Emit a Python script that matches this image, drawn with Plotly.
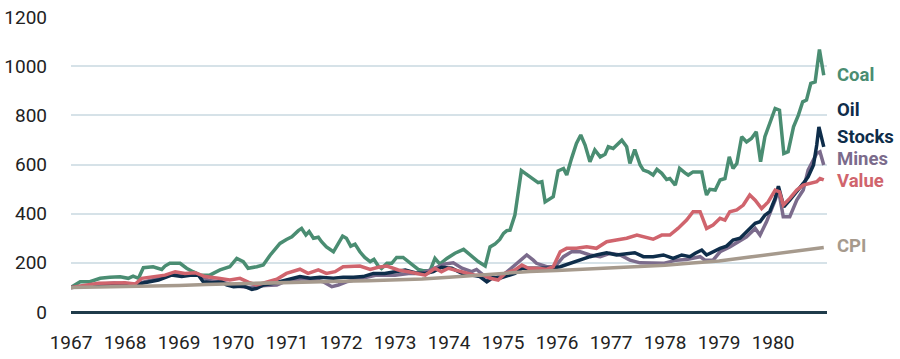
import plotly.graph_objects as go

# ---------------- data (index, Jan 1967 = 100) ----------------
coal_x = [1967.00, 1967.17, 1967.35, 1967.54, 1967.72, 1967.91, 1968.06, 1968.15, 1968.25, 1968.34,
          1968.52, 1968.68, 1968.74, 1968.83, 1969.02, 1969.14, 1969.26, 1969.39, 1969.57, 1969.76,
          1969.94, 1970.07, 1970.19, 1970.28, 1970.44, 1970.56, 1970.69, 1970.78, 1970.87, 1970.99,
          1971.09, 1971.21, 1971.27, 1971.35, 1971.41, 1971.49, 1971.58, 1971.64, 1971.73, 1971.86,
          1971.95, 1972.03, 1972.10, 1972.18, 1972.26, 1972.35, 1972.44, 1972.54, 1972.61, 1972.69,
          1972.75, 1972.85, 1972.94, 1973.03, 1973.15, 1973.25, 1973.34, 1973.43, 1973.52, 1973.65,
          1973.74, 1973.83, 1973.96, 1974.11, 1974.27, 1974.42, 1974.54, 1974.67, 1974.76, 1974.85,
          1974.94, 1975.01, 1975.07, 1975.13, 1975.22, 1975.34, 1975.50, 1975.65, 1975.72, 1975.78,
          1975.93, 1976.02, 1976.12, 1976.18, 1976.27, 1976.36, 1976.44, 1976.52, 1976.61, 1976.70,
          1976.80, 1976.89, 1976.95, 1977.04, 1977.20, 1977.29, 1977.35, 1977.44, 1977.54, 1977.60,
          1977.69, 1977.78, 1977.85, 1977.94, 1978.03, 1978.09, 1978.19, 1978.27, 1978.37, 1978.43,
          1978.52, 1978.61, 1978.68, 1978.74, 1978.77, 1978.83, 1978.93, 1979.02, 1979.11, 1979.19,
          1979.26, 1979.33, 1979.42, 1979.51, 1979.60, 1979.69, 1979.77, 1979.85, 1979.91, 1979.99,
          1980.04, 1980.12, 1980.16, 1980.20, 1980.28, 1980.38, 1980.47, 1980.55, 1980.62, 1980.70,
          1980.78, 1980.86, 1980.94]
coal_y = [100, 123, 123, 137, 141, 143, 137, 146, 137, 180,
          184, 173, 187, 198, 198, 178, 164, 150, 150, 171,
          184, 218, 205, 178, 184, 191, 232, 255, 279, 295,
          306, 331, 340, 313, 327, 300, 304, 286, 265, 245,
          279, 309, 300, 268, 276, 245, 222, 205, 214, 187,
          177, 198, 198, 222, 222, 205, 187, 173, 168, 168,
          218, 195, 218, 239, 255, 225, 205, 187, 265, 276,
          295, 320, 331, 333, 394, 575, 550, 526, 530, 448,
          469, 574, 584, 557, 625, 686, 720, 679, 611, 659,
          631, 642, 672, 665, 699, 672, 604, 661, 598, 577,
          570, 557, 580, 564, 539, 543, 516, 584, 566, 557,
          570, 570, 570, 503, 476, 499, 496, 537, 543, 631,
          584, 604, 713, 692, 706, 733, 611, 713, 751, 797,
          828, 821, 747, 645, 652, 753, 801, 855, 862, 930,
          936, 1068, 963]

oil_x = [1967.00, 1967.20, 1967.40, 1967.60, 1967.80, 1968.00, 1968.20, 1968.31, 1968.62, 1968.86,
         1969.05, 1969.24, 1969.36, 1969.45, 1969.61, 1969.79, 1969.88, 1970.01, 1970.19, 1970.35,
         1970.44, 1970.56, 1970.75, 1970.99, 1971.24, 1971.43, 1971.61, 1971.86, 1972.04, 1972.23,
         1972.41, 1972.60, 1972.81, 1973.00, 1973.19, 1973.37, 1973.56, 1973.71, 1973.86, 1974.05,
         1974.24, 1974.42, 1974.57, 1974.70, 1974.82, 1974.94, 1975.10, 1975.22, 1975.35, 1975.47,
         1975.69, 1975.87, 1976.06, 1976.24, 1976.43, 1976.61, 1976.73, 1976.92, 1977.10, 1977.29,
         1977.44, 1977.60, 1977.78, 1977.97, 1978.15, 1978.31, 1978.46, 1978.56, 1978.68, 1978.77,
         1978.89, 1979.02, 1979.14, 1979.26, 1979.39, 1979.48, 1979.57, 1979.67, 1979.76, 1979.85,
         1979.94, 1980.04, 1980.10, 1980.16, 1980.20, 1980.31, 1980.44, 1980.56, 1980.65, 1980.75,
         1980.81, 1980.85, 1980.94]
oil_y = [100, 104, 108, 112, 114, 112, 110, 117, 130, 150,
         144, 150, 150, 123, 119, 123, 110, 103, 106, 92,
         96, 110, 117, 130, 144, 137, 141, 137, 141, 141,
         144, 157, 157, 164, 171, 160, 157, 164, 182, 178,
         157, 150, 144, 123, 141, 137, 150, 157, 178, 178,
         178, 178, 184, 198, 214, 225, 232, 241, 232, 236,
         241, 225, 225, 232, 218, 232, 225, 239, 252, 232,
         245, 259, 268, 293, 300, 320, 340, 361, 367, 394,
         408, 462, 512, 455, 428, 455, 489, 523, 550, 598,
         679, 753, 672]

mines_x = [1967.00, 1967.20, 1967.40, 1967.60, 1967.80, 1968.00, 1968.20, 1968.35, 1968.60, 1968.85,
           1969.05, 1969.25, 1969.40, 1969.55, 1969.80, 1970.05, 1970.30, 1970.60, 1970.81, 1971.00,
           1971.30, 1971.50, 1971.67, 1971.83, 1971.95, 1972.10, 1972.41, 1972.66, 1973.00, 1973.25,
           1973.49, 1973.74, 1973.93, 1974.08, 1974.24, 1974.42, 1974.51, 1974.67, 1974.85, 1975.04,
           1975.22, 1975.44, 1975.56, 1975.62, 1975.81, 1975.96, 1976.12, 1976.27, 1976.43, 1976.61,
           1976.80, 1976.98, 1977.17, 1977.35, 1977.54, 1977.72, 1977.97, 1978.21, 1978.40, 1978.65,
           1978.74, 1978.89, 1979.02, 1979.20, 1979.51, 1979.67, 1979.76, 1979.88, 1980.04, 1980.10,
           1980.19, 1980.31, 1980.44, 1980.56, 1980.65, 1980.73, 1980.81, 1980.87, 1980.94]
mines_y = [100, 106, 110, 114, 118, 114, 112, 122, 135, 152,
           150, 155, 148, 128, 122, 106, 100, 108, 110, 128,
           135, 132, 123, 103, 110, 123, 137, 150, 150, 157,
           157, 178, 195, 200, 178, 164, 173, 144, 137, 157,
           191, 232, 211, 198, 184, 184, 225, 245, 245, 232,
           225, 239, 232, 211, 200, 198, 198, 211, 214, 225,
           211, 211, 245, 265, 306, 340, 313, 367, 455, 499,
           387, 387, 455, 496, 577, 611, 645, 652, 598]

value_x = [1967.00, 1967.51, 1968.00, 1968.19, 1968.31, 1968.56, 1968.74, 1968.93, 1969.11, 1969.30,
           1969.48, 1969.73, 1969.94, 1970.13, 1970.31, 1970.44, 1970.62, 1970.81, 1970.99, 1971.24,
           1971.39, 1971.58, 1971.73, 1971.89, 1972.04, 1972.35, 1972.54, 1972.69, 1972.85, 1973.06,
           1973.25, 1973.43, 1973.56, 1973.74, 1973.86, 1973.99, 1974.11, 1974.30, 1974.48, 1974.64,
           1974.76, 1974.91, 1975.04, 1975.22, 1975.35, 1975.47, 1975.62, 1975.81, 1975.93, 1976.06,
           1976.18, 1976.36, 1976.55, 1976.73, 1976.92, 1977.10, 1977.29, 1977.48, 1977.63, 1977.78,
           1977.94, 1978.09, 1978.24, 1978.40, 1978.52, 1978.65, 1978.77, 1978.89, 1979.02, 1979.11,
           1979.20, 1979.33, 1979.45, 1979.57, 1979.67, 1979.79, 1979.91, 1980.04, 1980.12, 1980.19,
           1980.31, 1980.44, 1980.56, 1980.69, 1980.81, 1980.87, 1980.94]
value_y = [100, 117, 119, 114, 137, 144, 150, 164, 157, 160,
           144, 137, 130, 137, 119, 110, 123, 133, 157, 174,
           157, 171, 157, 164, 184, 187, 173, 182, 187, 171,
           164, 157, 150, 178, 164, 178, 171, 157, 150, 150,
           137, 130, 157, 171, 191, 178, 178, 174, 184, 245,
           259, 259, 265, 259, 286, 293, 300, 313, 306, 296,
           313, 313, 340, 374, 408, 408, 340, 354, 381, 374,
           408, 415, 435, 476, 455, 421, 448, 496, 489, 435,
           462, 496, 516, 523, 530, 543, 537]

cpi_x = [1967.0, 1967.5, 1968.0, 1968.5, 1969.0, 1969.5, 1970.0, 1970.5, 1971.0, 1971.5,
         1972.0, 1972.5, 1973.0, 1973.5, 1974.0, 1974.5, 1975.0, 1975.5, 1976.0, 1976.5,
         1977.0, 1977.5, 1978.0, 1978.5, 1979.0, 1979.5, 1980.0, 1980.5, 1980.94]
cpi_y = [100.0, 101.6, 103.4, 106.3, 108.2, 111.8, 114.9, 118.4, 120.9, 123.5,
         124.9, 127.3, 129.5, 134.6, 141.7, 150.4, 158.3, 164.6, 169.1, 173.5,
         177.8, 185.2, 189.9, 199.5, 207.6, 222.0, 236.5, 251.3, 262.1]

years = list(range(1967, 1981))
year_labels = [str(y) for y in years]
y_ticks = [0, 200, 400, 600, 800, 1000, 1200]

# labels at right end: (text, y position in data units, colour)
end_labels = [("Coal", 963, "#4a8d72"), ("Oil", 821, "#0e2d4a"), ("Stocks", 711, "#0e2d4a"),
              ("Mines", 622, "#7b6b8c"), ("Value", 532, "#d0646d"), ("CPI", 268, "#a69a8d")]

FONT = "Roboto, sans-serif"

series = [
    ("Coal", coal_x, coal_y, "#4a8d72"),
    ("Mines", mines_x, mines_y, "#7b6b8c"),
    ("Oil Stocks", oil_x, oil_y, "#0e2d4a"),
    ("Value", value_x, value_y, "#d0646d"),
    ("CPI", cpi_x, cpi_y, "#a69a8d"),
]

fig = go.Figure()
for name, xs, ys, col in series:
    fig.add_trace(go.Scatter(x=xs, y=ys, mode="lines", name=name,
                             line=dict(color=col, width=3.5), cliponaxis=False,
                             hoverinfo="skip"))

for txt, yv, col in end_labels:
    fig.add_annotation(x=1.0106, y=yv, xref="paper", yref="y", text="<b>%s</b>" % txt,
                       showarrow=False, xanchor="left", yanchor="middle",
                       font=dict(family=FONT, size=18.5, color=col))

fig.update_layout(
    width=900, height=359,
    margin=dict(l=71, r=73, t=17, b=47, autoexpand=False),
    paper_bgcolor="white", plot_bgcolor="white",
    showlegend=False,
    font=dict(family=FONT, size=19, color="#222222"),
)
fig.update_xaxes(range=[1967, 1981], tickvals=years, ticktext=year_labels,
                 showgrid=False, zeroline=False, showline=False, automargin=False,
                 ticks="", ticklabelstandoff=17, ticklabeloverflow="allow",
                 tickfont=dict(family=FONT, size=19, color="#222222"))
fig.update_yaxes(range=[0, 1200], tickvals=y_ticks, automargin=False,
                 showgrid=True, gridcolor="#d6e2e8", gridwidth=2,
                 zeroline=True, zerolinecolor="#1f3b4a", zerolinewidth=2.5,
                 showline=False, ticks="", ticklabelstandoff=23, ticklabeloverflow="allow",
                 tickfont=dict(family=FONT, size=19, color="#222222"))

# remove the default 8px page margin so the figure sits at the window's top-left corner
fig.write_html("out.html", config={"displayModeBar": False},
               post_script="document.body.style.margin='0';")
